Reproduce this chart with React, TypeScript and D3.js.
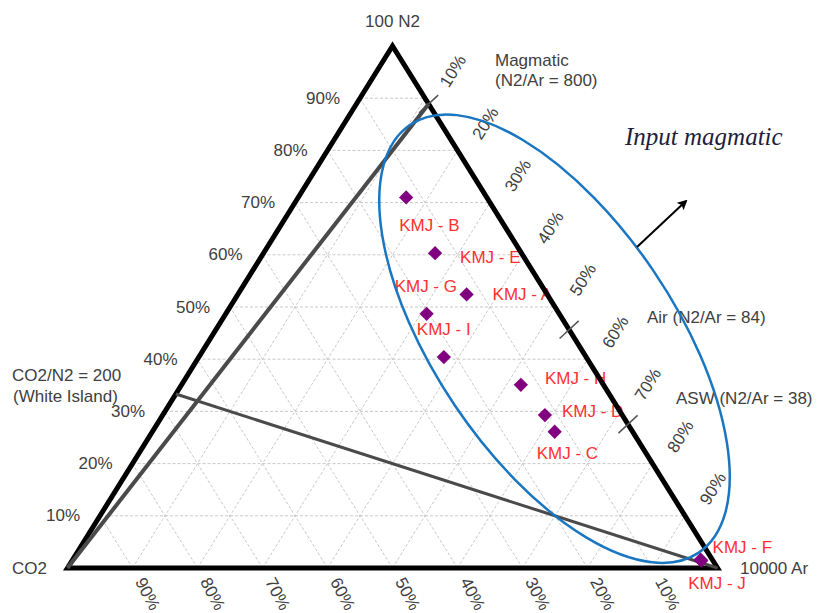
import React, { useEffect, useRef } from "react";
import * as d3 from "d3";

// samples (percent of scaled 100*N2, CO2, 10000*Ar)
const sampleNames = ["KMJ - B", "KMJ - E", "KMJ - G", "KMJ - A", "KMJ - I", "KMJ - H", "KMJ - D", "KMJ - C", "KMJ - F", "KMJ - J"];
const n2Pct = [71.0, 60.3, 48.7, 52.4, 40.4, 35.1, 29.3, 26.1, 1.6, 1.4];
const arPct = [16.6, 26.4, 30.9, 35.2, 37.7, 52.2, 58.8, 61.9, 96.6, 96.8];
const co2Pct = [12.4, 13.3, 20.4, 12.4, 21.9, 12.7, 11.9, 12.0, 1.8, 1.8];

// reference end-members on the N2-Ar join
const refNames = ["Magmatic", "Air", "ASW"];
const refN2Ar = [800, 84, 38];
const whiteIslandCO2N2 = 200;
const ratioScale = 100;

const gridTicks = [10, 20, 30, 40, 50, 60, 70, 80, 90];

// label placement (layout only)
const labelOffsets: [number, number][] = [
    [-7, 34], [25, 10], [-32, -22], [26, 6], [-27, -22],
    [24, -1], [17, 2], [-18, 27], [12, -7], [-13, 28],
];

const W = 824;
const H = 613;
const font = "'Liberation Sans', Arial, sans-serif";
const textGray = "#404040";
const red = "#ff3030";

function App() {
    const ref = useRef<SVGSVGElement>(null);

    useEffect(() => {
        const svg = d3.select(ref.current);
        svg.selectAll("*").remove();

        // ternary: x along base (Ar + N2/2), y by N2
        const xScale = d3.scaleLinear().domain([0, 1]).range([67.5, 717.5]);
        const yScale = d3.scaleLinear().domain([0, 1]).range([568, 46]);
        const proj = (n2: number, ar: number, co2: number): [number, number] => {
            const s = n2 + ar + co2;
            const a = n2 / s;
            const c = ar / s;
            return [xScale(c + a / 2), yScale(a)];
        };

        const top = proj(1, 0, 0);
        const left = proj(0, 0, 1);
        const right = proj(0, 1, 0);
        const line = d3.line();

        svg.append("rect").attr("width", W).attr("height", H).attr("fill", "#fff");

        // grid
        const grid = svg.append("g")
            .attr("stroke", "#c9c9c9")
            .attr("stroke-width", 1)
            .attr("stroke-dasharray", "3,2")
            .attr("fill", "none");
        gridTicks.forEach((t) => {
            const v = t / 100;
            grid.append("path").attr("d", line([proj(v, 0, 1 - v), proj(v, 1 - v, 0)]));
            grid.append("path").attr("d", line([proj(0, v, 1 - v), proj(1 - v, v, 0)]));
            grid.append("path").attr("d", line([proj(0, 1 - v, v), proj(1 - v, 0, v)]));
        });

        const txt = (x: number, y: number, s: string) =>
            svg.append("text")
                .attr("x", x)
                .attr("y", y)
                .style("font-family", font)
                .style("font-size", "17px")
                .style("fill", textGray)
                .text(s);

        // left axis (N2)
        gridTicks.forEach((t) => {
            const v = t / 100;
            const p = proj(v, 0, 1 - v);
            txt(p[0] - 20, p[1], t + "%")
                .attr("text-anchor", "end")
                .attr("dominant-baseline", "central");
        });

        // bottom axis (CO2)
        gridTicks.forEach((t) => {
            const v = t / 100;
            const p = proj(0, 1 - v, v);
            const cx = p[0] + 15;
            const cy = p[1] + 26;
            txt(0, 0, t + "%")
                .attr("text-anchor", "middle")
                .attr("dominant-baseline", "central")
                .attr("transform", "translate(" + cx + "," + cy + ") rotate(62)");
        });

        // right axis (Ar)
        gridTicks.forEach((t) => {
            const v = t / 100;
            const p = proj(1 - v, v, 0);
            const cx = p[0] + 28;
            const cy = p[1] - 27;
            txt(0, 0, t + "%")
                .attr("text-anchor", "middle")
                .attr("dominant-baseline", "central")
                .attr("transform", "translate(" + cx + "," + cy + ") rotate(-58)");
        });

        // corner + annotation texts
        txt(top[0], 27, "100 N2").attr("text-anchor", "middle");
        txt(12, 574, "CO2");
        txt(740, 574, "10000 Ar");
        txt(495, 66, refNames[0]);
        txt(495, 86, "(N2/Ar = " + refN2Ar[0] + ")");
        txt(647, 323, refNames[1] + " (N2/Ar = " + refN2Ar[1] + ")");
        txt(676, 404, refNames[2] + " (N2/Ar = " + refN2Ar[2] + ")");
        txt(12, 381, "CO2/N2  = " + whiteIslandCO2N2);
        txt(13, 402, "(White Island)");

        svg.append("text")
            .attr("x", 625)
            .attr("y", 145)
            .style("font-family", "'Liberation Serif', 'Times New Roman', serif")
            .style("font-style", "italic")
            .style("font-size", "25px")
            .style("fill", "#1e1e3c")
            .text("Input magmatic");

        // sample labels
        const pts = sampleNames.map((_, i) => proj(n2Pct[i], arPct[i], co2Pct[i]));
        sampleNames.forEach((name, i) => {
            svg.append("text")
                .attr("x", pts[i][0] + labelOffsets[i][0])
                .attr("y", pts[i][1] + labelOffsets[i][1])
                .style("font-family", font)
                .style("font-size", "17px")
                .style("fill", red)
                .text(name);
        });

        // triangle frame
        svg.append("path")
            .attr("d", line([top, left, right]) + "Z")
            .attr("fill", "none")
            .attr("stroke", "#000")
            .attr("stroke-width", 5)
            .attr("stroke-linejoin", "miter");

        // reference ticks on the N2-Ar join
        const refPts = refN2Ar.map((r) => {
            const n2 = r / ratioScale;
            return proj(n2, 1, 0);
        });
        refPts.forEach((p) => {
            const dx = 13 * Math.cos(-Math.PI / 4.2);
            const dy = 13 * Math.sin(-Math.PI / 4.2);
            svg.append("line")
                .attr("x1", p[0] - dx).attr("y1", p[1] - dy)
                .attr("x2", p[0] + dx).attr("y2", p[1] + dy)
                .attr("stroke", "#555")
                .attr("stroke-width", 1.5);
        });

        // mixing lines
        const wi = proj(1, 0, whiteIslandCO2N2 / ratioScale);
        svg.append("path")
            .attr("d", line([left, refPts[0]]))
            .attr("stroke", "#4a4a4a")
            .attr("stroke-width", 4)
            .attr("fill", "none");
        svg.append("path")
            .attr("d", line([wi, right]))
            .attr("stroke", "#4a4a4a")
            .attr("stroke-width", 3)
            .attr("fill", "none");

        // magmatic input field
        svg.append("ellipse")
            .attr("cx", 0).attr("cy", 0)
            .attr("rx", 258).attr("ry", 120)
            .attr("transform", "translate(554.5,338.7) rotate(56)")
            .attr("fill", "none")
            .attr("stroke", "#1a76c0")
            .attr("stroke-width", 2.5);

        // arrow
        svg.append("defs").append("marker")
            .attr("id", "arrowhead")
            .attr("viewBox", "0 0 10 10")
            .attr("refX", 8).attr("refY", 5)
            .attr("markerWidth", 5).attr("markerHeight", 5)
            .attr("orient", "auto")
            .append("path")
            .attr("d", "M0,0 L10,5 L0,10 L2,5 Z")
            .attr("fill", "#000");
        svg.append("line")
            .attr("x1", 637).attr("y1", 247)
            .attr("x2", 686).attr("y2", 201)
            .attr("stroke", "#000")
            .attr("stroke-width", 2)
            .attr("marker-end", "url(#arrowhead)");

        // sample points
        svg.selectAll(".pt")
            .data(pts)
            .enter()
            .append("path")
            .attr("class", "pt")
            .attr("d", d3.symbol().type(d3.symbolDiamond2).size(130))
            .attr("transform", (d) => "translate(" + d[0] + "," + d[1] + ")")
            .attr("fill", "#800080");
    }, []);

    return (
        <svg
            ref={ref}
            width={W}
            height={H}
            style={{ position: "absolute", left: 0, top: 0, display: "block" }}
        ></svg>
    );
}

export default App;
